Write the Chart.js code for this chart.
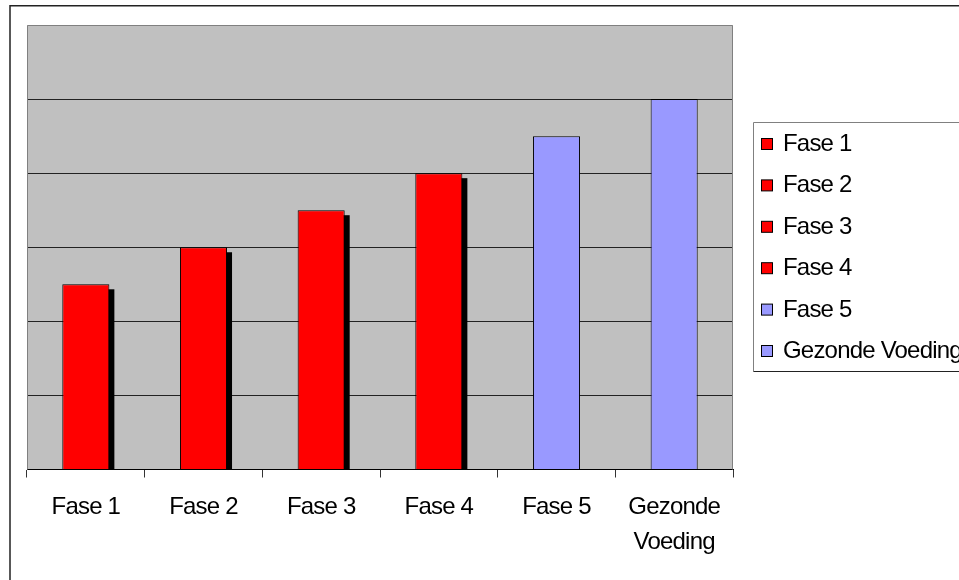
<!DOCTYPE html>
<html>
<head>
<meta charset="utf-8">
<script src="https://cdn.jsdelivr.net/npm/chart.js@4"></script>
<style>
  html, body { margin: 0; padding: 0; background: #fff; }
  #wrap { width: 959px; height: 580px; position: relative; }
</style>
</head>
<body>
<div id="wrap"><canvas id="chart"></canvas></div>
<script>
  // Chart values
  const categories = ['Fase 1', 'Fase 2', 'Fase 3', 'Fase 4', 'Fase 5', ['Gezonde', 'Voeding']];
  const legendLabels = ['Fase 1', 'Fase 2', 'Fase 3', 'Fase 4', 'Fase 5', 'Gezonde Voeding'];
  const values = [2.5, 3, 3.5, 4, 4.5, 5];
  const yTicks = [0, 1, 2, 3, 4, 5, 6];

  const RED = '#FF0000';
  const BLUE = '#9999FF';
  const barColors = [RED, RED, RED, RED, BLUE, BLUE];
  const FONT = "'Liberation Sans', Arial, sans-serif";

  // Grey plot background, outer frame, letter spacing
  const frame = {
    id: 'frame',
    beforeDraw(chart) {
      const { ctx, chartArea: a } = chart;
      ctx.letterSpacing = '-0.8px';
      ctx.save();
      ctx.fillStyle = '#fff';
      ctx.fillRect(0, 0, chart.width, chart.height);
      ctx.fillStyle = '#C0C0C0';
      ctx.fillRect(a.left, a.top, a.right - a.left, a.bottom - a.top);
      ctx.strokeStyle = '#222';
      ctx.lineWidth = 1.5;
      ctx.strokeRect(10, 5.75, 1200, 1200);
      ctx.restore();
    },
    afterDraw(chart) {
      const { ctx, chartArea: a } = chart;
      ctx.save();
      ctx.strokeStyle = '#808080';
      ctx.lineWidth = 1;
      ctx.beginPath();
      ctx.moveTo(a.left + 0.5, a.bottom);
      ctx.lineTo(a.left + 0.5, a.top + 0.5);
      ctx.lineTo(a.right - 0.5, a.top + 0.5);
      ctx.lineTo(a.right - 0.5, a.bottom);
      ctx.stroke();
      ctx.restore();
    }
  };

  // Black drop shadow behind the red bars
  const barShadow = {
    id: 'barShadow',
    beforeDatasetsDraw(chart) {
      const { ctx, chartArea: a } = chart;
      const meta = chart.getDatasetMeta(0);
      ctx.save();
      ctx.beginPath();
      ctx.rect(a.left, a.top, a.right - a.left, a.bottom - a.top);
      ctx.clip();
      ctx.fillStyle = '#000';
      meta.data.forEach((bar, i) => {
        if (barColors[i] !== RED) return;
        const w = bar.width;
        ctx.fillRect(bar.x - w / 2 + 5, bar.y + 5, w, bar.base - bar.y);
      });
      ctx.restore();
    }
  };

  // Boxed legend on the right, running off the edge like the original
  const sideLegend = {
    id: 'sideLegend',
    afterDraw(chart) {
      const ctx = chart.ctx;
      ctx.save();
      ctx.fillStyle = '#fff';
      ctx.fillRect(753, 122, 300, 250);
      ctx.strokeStyle = '#808080';
      ctx.lineWidth = 1;
      ctx.beginPath();
      ctx.moveTo(1000, 122.5);
      ctx.lineTo(753.5, 122.5);
      ctx.lineTo(753.5, 371.5);
      ctx.stroke();
      ctx.strokeStyle = '#222';
      ctx.beginPath();
      ctx.moveTo(753.5, 371.5);
      ctx.lineTo(1000, 371.5);
      ctx.stroke();

      ctx.font = '24px ' + FONT;
      ctx.textBaseline = 'alphabetic';
      legendLabels.forEach((label, i) => {
        const base = 151 + i * 41.4;
        ctx.fillStyle = barColors[i];
        ctx.fillRect(761.5, base - 12.5, 11, 11);
        ctx.strokeStyle = '#000';
        ctx.strokeRect(761.5, base - 12.5, 11, 11);
        ctx.fillStyle = '#000';
        ctx.fillText(label, 783, base);
      });
      ctx.restore();
    }
  };

  new Chart(document.getElementById('chart'), {
    type: 'bar',
    data: {
      labels: categories,
      datasets: [{
        data: values,
        backgroundColor: barColors,
        borderColor: '#000',
        borderWidth: 1,
        barPercentage: 0.4,
        categoryPercentage: 1
      }]
    },
    options: {
      responsive: true,
      maintainAspectRatio: false,
      animation: false,
      layout: { padding: { left: 27, top: 25, right: 226, bottom: 8.5 } },
      plugins: {
        legend: { display: false },
        tooltip: { enabled: false }
      },
      scales: {
        x: {
          grid: {
            drawOnChartArea: false,
            drawTicks: true,
            tickLength: 8,
            color: '#333'
          },
          border: { color: '#000', width: 1 },
          ticks: {
            color: '#000',
            maxRotation: 0,
            autoSkip: false,
            padding: 12,
            font: { family: FONT, size: 24, lineHeight: 35 / 24 }
          }
        },
        y: {
          min: yTicks[0],
          max: yTicks[yTicks.length - 1],
          afterBuildTicks(scale) {
            scale.ticks = yTicks.map(v => ({ value: v }));
          },
          grid: {
            drawTicks: false,
            color: ctx => (ctx.tick && ctx.tick.value === 6 ? 'rgba(0,0,0,0)' : '#222')
          },
          border: { display: false },
          ticks: { display: false }
        }
      }
    },
    plugins: [frame, barShadow, sideLegend]
  });
</script>
</body>
</html>
